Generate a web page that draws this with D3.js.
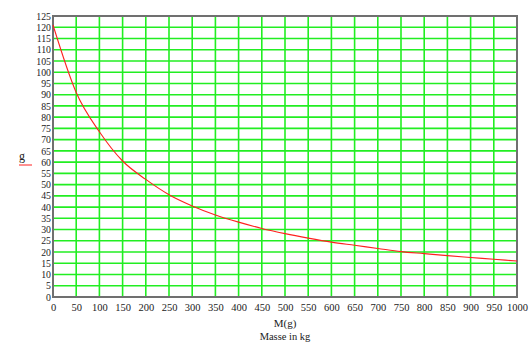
<!DOCTYPE html>
<html><head><meta charset="utf-8">
<script src="https://cdn.jsdelivr.net/npm/d3@7"></script>
<style>body{margin:0;background:#fff}svg{display:block}</style>
</head><body>
<script>
const massValues = [0,50,100,150,200,250,300,350,400,450,500,550,600,650,700,750,800,850,900,950,1000];
const gValues = [121,91,73.5,60.5,52.3,45.5,40.5,36.5,33.3,30.5,28.2,26.2,24.4,23,21.6,20.2,19.3,18.4,17.6,16.8,16.0];
const xTicks = d3.range(0,1001,50);
const yTicks = d3.range(0,126,5);
const xTitle = "M(g)";
const xSubtitle = "Masse in kg";
const yTitle = "g";

const W=530,H=345;
const m={left:53,right:13,top:16,bottom:48};
const svg=d3.select("body").append("svg").attr("width",W).attr("height",H);
const x=d3.scaleLinear().domain([0,1000]).range([m.left,W-m.right]);
const y=d3.scaleLinear().domain([0,125]).range([H-m.bottom,m.top]);

const grid=svg.append("g");
grid.selectAll("line.v").data(xTicks.slice(1,-1)).join("line")
  .attr("x1",d=>x(d)).attr("x2",d=>x(d)).attr("y1",y(0)).attr("y2",y(125))
  .attr("stroke","#22ee22").attr("stroke-width",1.6);
grid.selectAll("line.h").data(yTicks.slice(1,-1)).join("line")
  .attr("y1",d=>y(d)).attr("y2",d=>y(d)).attr("x1",x(0)).attr("x2",x(1000))
  .attr("stroke","#22ee22").attr("stroke-width",1.6);

svg.append("rect").attr("x",x(0)).attr("y",y(125)).attr("width",x(1000)-x(0)).attr("height",y(0)-y(125))
  .attr("fill","none").attr("stroke","#707070").attr("stroke-width",2);

const line=d3.line().x((d,i)=>x(massValues[i])).y(d=>y(d)).curve(d3.curveMonotoneX);
svg.append("path").datum(gValues).attr("d",line).attr("fill","none").attr("stroke","#ff2020").attr("stroke-width",1.1);

const font="'Liberation Serif','Times New Roman',serif";
const xAxis=d3.axisBottom(x).tickValues(xTicks).tickFormat(d3.format("d")).tickSize(0).tickPadding(5);
const gx=svg.append("g").attr("transform",`translate(0,${y(0)})`).call(xAxis);
gx.select(".domain").remove();
gx.selectAll("text").attr("font-family",font).attr("font-size",10.5).attr("fill","#222").attr("dy","0.9em");
const yAxis=d3.axisLeft(y).tickValues(yTicks).tickSize(0).tickPadding(2);
const gy=svg.append("g").attr("transform",`translate(${x(0)},0)`).call(yAxis);
gy.select(".domain").remove();
gy.selectAll("text").attr("font-family",font).attr("font-size",9.8).attr("fill","#222");

svg.append("text").attr("x",(x(0)+x(1000))/2).attr("y",327).attr("text-anchor","middle")
  .attr("font-family",font).attr("font-size",11).attr("fill","#222").text(xTitle);
svg.append("text").attr("x",(x(0)+x(1000))/2).attr("y",340).attr("text-anchor","middle")
  .attr("font-family",font).attr("font-size",10.5).attr("fill","#222").text(xSubtitle);
svg.append("text").attr("x",22).attr("y",160).attr("text-anchor","middle")
  .attr("font-family",font).attr("font-size",12).attr("fill","#222").text(yTitle);
svg.append("line").attr("x1",19).attr("x2",32).attr("y1",165).attr("y2",165).attr("stroke","#ff2020").attr("stroke-width",1);
</script>
</body></html>
